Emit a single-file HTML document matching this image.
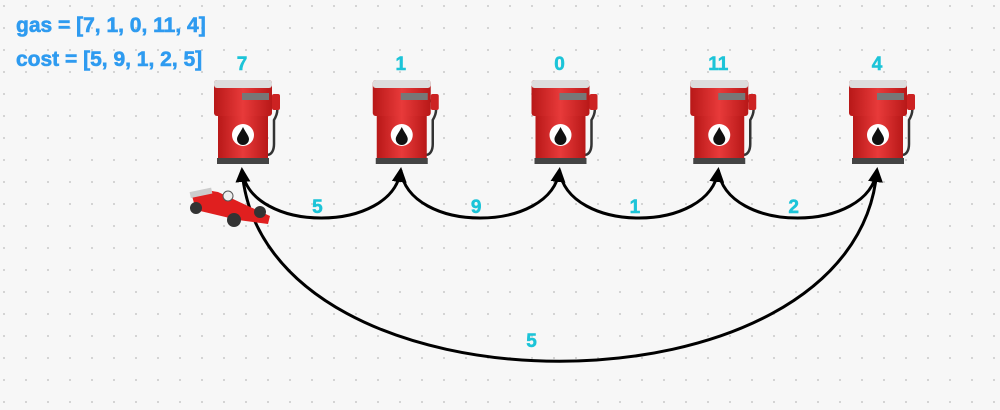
<!DOCTYPE html>
<html><head><meta charset="utf-8"><style>
html,body{margin:0;padding:0;background:#f7f7f7;}
svg{display:block;font-family:"Liberation Sans",sans-serif;}
text{font-weight:bold;}
</style></head><body>
<svg id="chart" width="1000" height="410" viewBox="0 0 1000 410">
<defs>
<pattern id="dots" width="22" height="22" patternUnits="userSpaceOnUse"><circle cx="4" cy="6" r="1" fill="#c9c9c9"/></pattern>
<marker id="arr" viewBox="0 0 10 10" refX="8" refY="5" markerWidth="5" markerHeight="5" orient="auto-start-reverse"><path d="M0,0 L10,5 L0,10 z" fill="#000"/></marker>
<linearGradient id="red" x1="0" x2="1"><stop offset="0" stop-color="#b81818"/><stop offset="0.5" stop-color="#e83a3a"/><stop offset="1" stop-color="#b81818"/></linearGradient>
</defs>
<rect width="1000" height="410" fill="url(#dots)"/>
<text x="16" y="32" font-size="21" style="font-weight:bold" stroke="#2e9bf0" stroke-width="0.6" fill="#2e9bf0">gas = [7, 1, 0, 11, 4]</text>
<text x="16" y="66" font-size="21" style="font-weight:bold" stroke="#2e9bf0" stroke-width="0.6" fill="#2e9bf0">cost = [5, 9, 1, 2, 5]</text>
<g id="layer"></g>
</svg>
<script>
const gas = [7, 1, 0, 11, 4];
const cost = [5, 9, 1, 2, 5];
const stationIndex = [0, 1, 2, 3, 4];
const NS = "http://www.w3.org/2000/svg";
const layer = document.getElementById('layer');
const xOf = i => 242 + i * 158.75;
function mk(tag, attrs, parent) {
  const e = document.createElementNS(NS, tag);
  for (const k in attrs) e.setAttribute(k, attrs[k]);
  (parent || layer).appendChild(e);
  return e;
}
const n = gas.length;
for (let i = 0; i < n; i++) {
  const x1 = xOf(i), x2 = xOf((i + 1) % n);
  let p, lx, ly;
  if (i < n - 1) {
    p = `M${x1},170 C${x1 + 8},234 ${x2 - 8},234 ${x2},170`;
    lx = (x1 + x2) / 2 - 4; ly = 213;
  } else {
    p = `M${x1},170 C${x1 - 20},425 ${x2 + 20},425 ${x2},170`;
    lx = (x1 + x2) / 2 - 28; ly = 347;
  }
  const path = mk('path', {d: p, fill: 'none', stroke: '#000', 'stroke-width': 3, 'marker-end': 'url(#arr)'});
  
  
  const t = mk('text', {x: lx, y: ly, 'font-size': 19, fill: '#1cc4d8', stroke: '#1cc4d8', 'stroke-width': 0.5, 'text-anchor': 'middle'});
  t.textContent = cost[i];
  
  
}
stationIndex.forEach(i => {
  const cx = xOf(i);
  const g = mk('g', {transform: `translate(${cx - 30},80)`});
  
  
  mk('path', {d: 'M54,18 C66,22 68,30 62,40 L62,64 C62,78 50,78 50,66 L50,40', fill: 'none', stroke: '#333', 'stroke-width': 2.5}, g);
  mk('rect', {x: 60, y: 14, width: 8, height: 16, rx: 2, fill: '#c22'}, g);
  mk('rect', {x: 2, y: 0, width: 58, height: 36, rx: 3, fill: 'url(#red)'}, g);
  mk('rect', {x: 2, y: 0, width: 58, height: 8, rx: 3, fill: '#ddd'}, g);
  mk('rect', {x: 30, y: 13, width: 27, height: 7, fill: '#777'}, g);
  mk('rect', {x: 6, y: 36, width: 50, height: 46, fill: 'url(#red)'}, g);
  mk('rect', {x: 5, y: 78, width: 52, height: 6, fill: '#444'}, g);
  mk('circle', {cx: 31, cy: 55, r: 11, fill: '#fff'}, g);
  mk('path', {d: 'M31,47 C34,53 37,56 37,59 A6,6 0 0 1 25,59 C25,56 28,53 31,47z', fill: '#111'}, g);
  const t = mk('text', {x: cx, y: 70, 'font-size': 19, fill: '#1cc4d8', stroke: '#1cc4d8', 'stroke-width': 0.5, 'text-anchor': 'middle'});
  t.textContent = gas[i];
  
  
});
const car = mk('g', {transform: 'translate(188,186)'});


mk('path', {d: 'M4,10 L18,4 L30,6 L60,20 L82,30 L80,38 L50,34 L8,24z', fill: '#e01f1f'}, car);
mk('rect', {x: 2, y: 4, width: 22, height: 6, fill: '#ccc', transform: 'rotate(-12 12 7)'}, car);
mk('circle', {cx: 40, cy: 10, r: 5, fill: '#eee', stroke: '#555'}, car);
mk('circle', {cx: 8, cy: 22, r: 6, fill: '#333'}, car);
mk('circle', {cx: 46, cy: 34, r: 7, fill: '#333'}, car);
mk('circle', {cx: 72, cy: 26, r: 6, fill: '#333'}, car);
</script>
</body></html>
